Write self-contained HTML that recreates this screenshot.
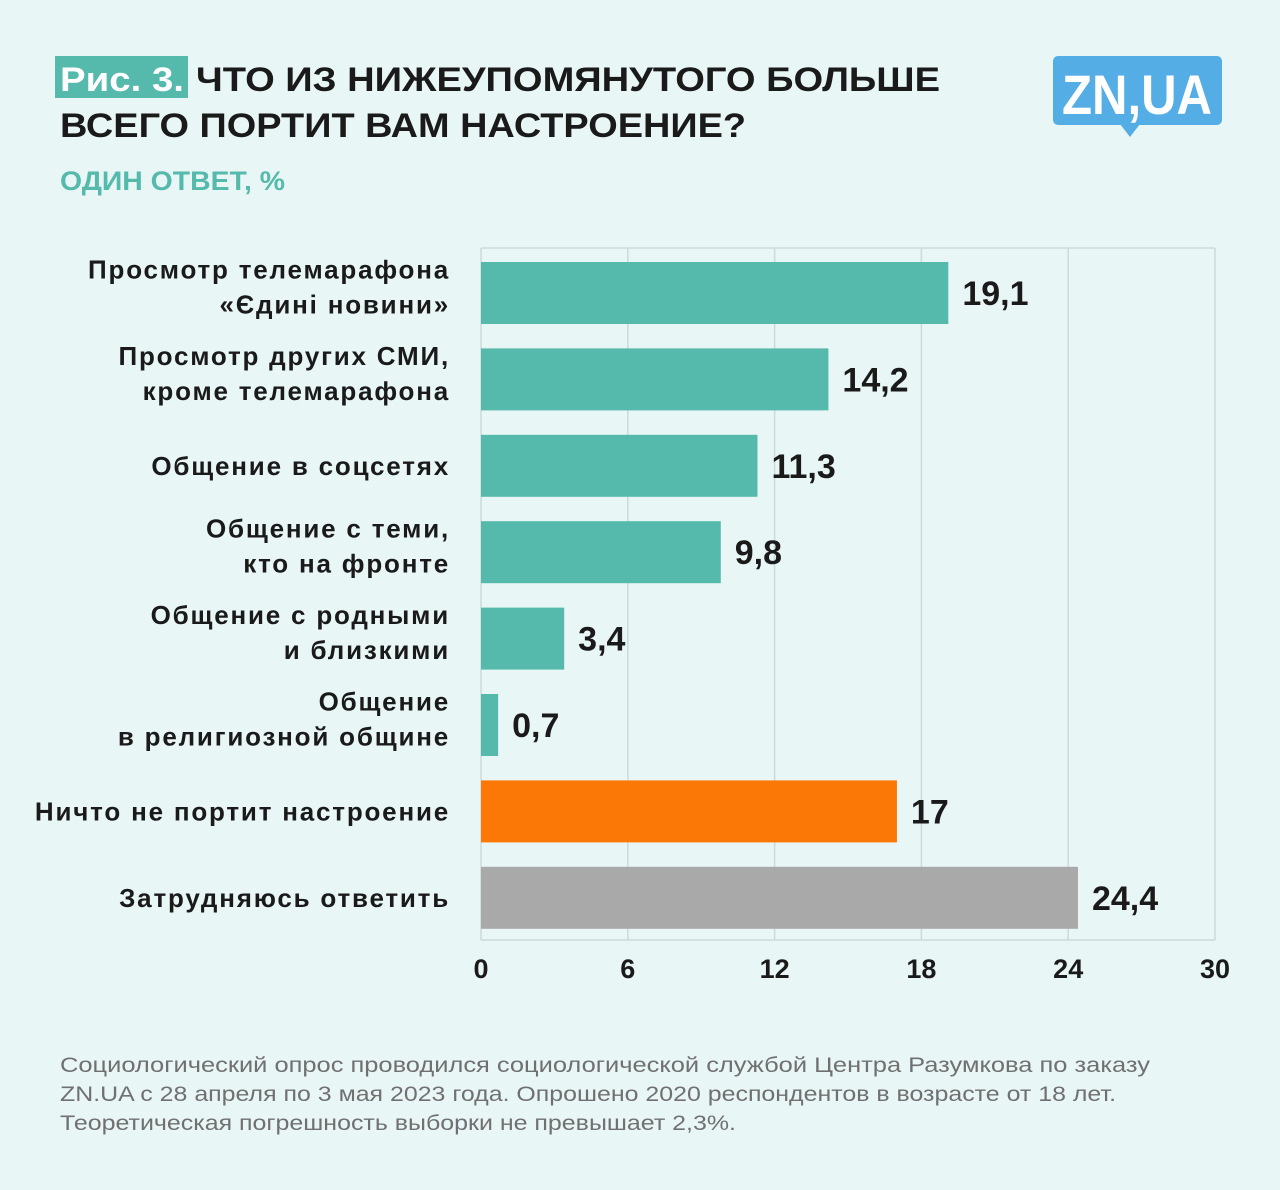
<!DOCTYPE html>
<html><head><meta charset="utf-8"><style>
html,body{margin:0;padding:0;background:#e9f6f6;}
svg{display:block;font-family:"Liberation Sans","DejaVu Sans",sans-serif;}
</style></head><body>
<svg id="c" width="1280" height="1190" viewBox="0 0 1280 1190">
<rect width="1280" height="1190" fill="#e9f6f6"/>
<rect x="55" y="56" width="133" height="42" fill="#55b9ab"/>
<text x="60" y="91" font-size="34" font-weight="bold" fill="#fff" textLength="124" lengthAdjust="spacingAndGlyphs">Рис. 3.</text>
<text x="196" y="91" font-size="34" font-weight="bold" fill="#1a1a1a" textLength="744" lengthAdjust="spacingAndGlyphs">ЧТО ИЗ НИЖЕУПОМЯНУТОГО БОЛЬШЕ</text>
<text x="60" y="137" font-size="34" font-weight="bold" fill="#1a1a1a" textLength="686" lengthAdjust="spacingAndGlyphs">ВСЕГО ПОРТИТ ВАМ НАСТРОЕНИЕ?</text>
<text x="60" y="190" font-size="27" font-weight="bold" fill="#55b9ab" textLength="225" lengthAdjust="spacingAndGlyphs">ОДИН ОТВЕТ, %</text>
<g>
<rect x="1053" y="56" width="169" height="69" rx="5" fill="#55ade6"/>
<path d="M1120 124 L1130 137 L1140 124 Z" fill="#55ade6"/>
<text x="1137" y="114" font-size="56" font-weight="bold" fill="#fff" text-anchor="middle" textLength="150" lengthAdjust="spacingAndGlyphs">ZN,UA</text>
</g>
<g id="grid"></g>
<g id="bars"></g>
<g id="labels"></g>
<text x="60" y="1072" font-size="21" fill="#707070" textLength="1090" lengthAdjust="spacingAndGlyphs">Социологический опрос проводился социологической службой Центра Разумкова по заказу</text>
<text x="60" y="1101" font-size="21" fill="#707070" textLength="1056" lengthAdjust="spacingAndGlyphs">ZN.UA с 28 апреля по 3 мая 2023 года. Опрошено 2020 респондентов в возрасте от 18 лет.</text>
<text x="60" y="1130" font-size="21" fill="#707070" textLength="676" lengthAdjust="spacingAndGlyphs">Теоретическая погрешность выборки не превышает 2,3%.</text>
</svg>
<script>
const categories=[["Просмотр телемарафона","«Єдині новини»"],["Просмотр других СМИ,","кроме телемарафона"],["Общение в соцсетях"],["Общение с теми,","кто на фронте"],["Общение с родными","и близкими"],["Общение","в религиозной общине"],["Ничто не портит настроение"],["Затрудняюсь ответить"]];
const values=[19.1,14.2,11.3,9.8,3.4,0.7,17,24.4];
const valueLabels=["19,1","14,2","11,3","9,8","3,4","0,7","17","24,4"];
const colors=["#55b9ab","#55b9ab","#55b9ab","#55b9ab","#55b9ab","#55b9ab","#fb7806","#a9a9a9"];
const ticks=[0,6,12,18,24,30];
const NS="http://www.w3.org/2000/svg";
const X0=481,X1=1215,YT=248,YB=940,MAX=30;
const xs=v=>X0+(X1-X0)*v/MAX;
const bh=62;
function mk(t,a,p){const e=document.createElementNS(NS,t);for(const k in a)e.setAttribute(k,a[k]);p.appendChild(e);return e;}
const gG=document.getElementById('grid'),gB=document.getElementById('bars'),gL=document.getElementById('labels');
ticks.forEach(t=>{
 const ln=mk('line',{x1:xs(t),x2:xs(t),y1:YT,y2:YB,stroke:'#cddada','stroke-width':1.5},gG);
 
 
 const tx=mk('text',{x:xs(t),y:978,'font-size':27,'font-weight':'bold','text-anchor':'middle',fill:'#1a1a1a'},gG);
 tx.textContent=t;
 
 
});
const topLine=mk('line',{x1:X0,x2:X1,y1:YT,y2:YT,stroke:'#cddada','stroke-width':1.5},gG);


const botLine=mk('line',{x1:X0,x2:X1,y1:YB,y2:YB,stroke:'#cddada','stroke-width':1.5},gG);


values.forEach((v,i)=>{
 const yy=262+i*86.4;
 const r=mk('rect',{x:X0,y:yy,width:xs(v)-X0,height:bh,fill:colors[i]},gB);
 
 
 const vt=mk('text',{x:xs(v)+14,y:yy+bh/2+12,'font-size':34,'font-weight':'bold',fill:'#1a1a1a'},gL);
 vt.textContent=valueLabels[i];
 
 
 const lines=categories[i];
 const off=lines.length>1?-6:0;
 lines.forEach((s,j)=>{
  const cy=yy+bh/2+9+off+(j-(lines.length-1)/2)*35;
  const ct=mk('text',{x:450,y:cy,'font-size':26,'font-weight':'bold','text-anchor':'end','letter-spacing':1.8,fill:'#1a1a1a'},gL);
  ct.textContent=s;
  
  
 });
});
</script>
</body></html>
